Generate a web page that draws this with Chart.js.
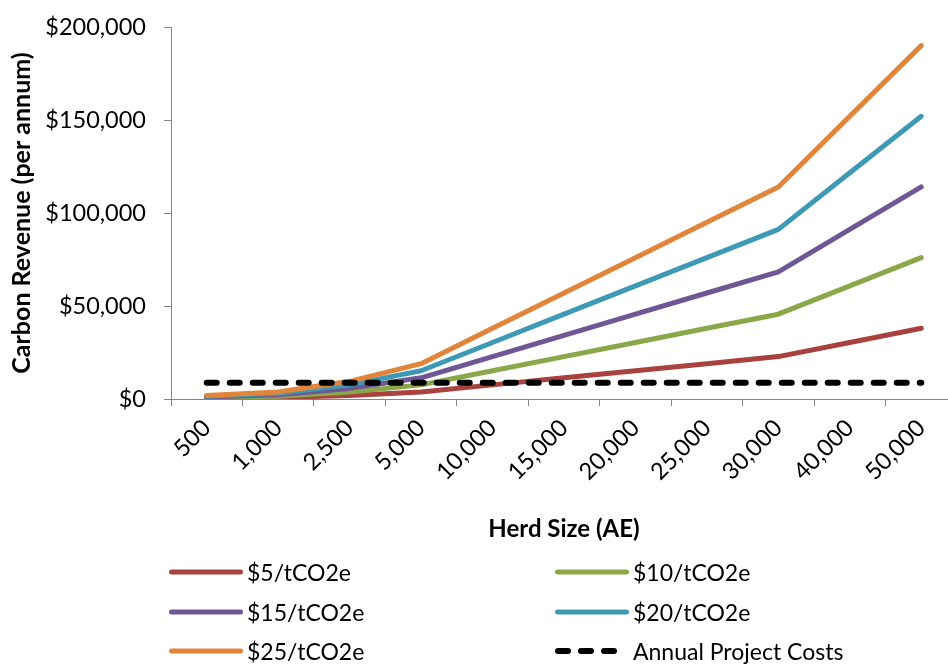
<!DOCTYPE html>
<html>
<head>
<meta charset="utf-8">
<title>Carbon Revenue by Herd Size</title>
<script src="https://cdn.jsdelivr.net/npm/chart.js@4.4.1/dist/chart.umd.min.js"></script>
<style>
  html, body { margin: 0; padding: 0; background: #fff; overflow: hidden; }
  #wrap { position: relative; width: 960px; height: 664px; }
  #chart { position: absolute; left: 0; top: 0; }
  #legend { position: absolute; left: 0; top: 0; width: 960px; height: 664px; pointer-events: none;
            font-family: Lato, "Open Sans", sans-serif; font-size: 23px; color: #000; }
  .item { position: absolute; display: flex; align-items: center; height: 30px; white-space: nowrap; }
  .item svg { display: block; margin-right: 4px; }
</style>
</head>
<body>
<div id="wrap">
  <canvas id="chart" width="960" height="664"></canvas>
  <div id="legend"></div>
</div>
<script>
// Herd size categories (animal equivalents)
const herdSizes = ['500', '1,000', '2,500', '5,000', '10,000', '15,000', '20,000', '25,000', '30,000', '40,000', '50,000'];

// Annual carbon revenue at each carbon price ($ per annum)
const revenueAt5  = [380, 760, 1900, 3800, 7600, 11400, 15200, 19000, 22800, 30400, 38000];
const revenueAt10 = [760, 1520, 3800, 7600, 15200, 22800, 30400, 38000, 45600, 60800, 76000];
const revenueAt15 = [1140, 2280, 5700, 11400, 22800, 34200, 45600, 57000, 68400, 91200, 114000];
const revenueAt20 = [1520, 3040, 7600, 15200, 30400, 45600, 60800, 76000, 91200, 121600, 152000];
const revenueAt25 = [1900, 3800, 9500, 19000, 38000, 57000, 76000, 95000, 114000, 152000, 190000];

// Fixed annual project costs
const projectCosts = [8800, 8800, 8800, 8800, 8800, 8800, 8800, 8800, 8800, 8800, 8800];

const seriesLabels = ['$5/tCO2e', '$10/tCO2e', '$15/tCO2e', '$20/tCO2e', '$25/tCO2e', 'Annual Project Costs'];
const seriesColors = ['#A9423F', '#8AA84A', '#6F5694', '#3E9AB4', '#E0853A', '#000000'];

const FONT = 'Lato, "Open Sans", sans-serif';
Chart.defaults.font.family = FONT;
Chart.defaults.color = '#000';

const revenueSeries = [revenueAt5, revenueAt10, revenueAt15, revenueAt20, revenueAt25];

const datasets = revenueSeries.map((values, i) => ({
  label: seriesLabels[i],
  data: values,
  borderColor: seriesColors[i],
  backgroundColor: seriesColors[i],
  borderWidth: 5,
  borderCapStyle: 'round',
  borderJoinStyle: 'round',
  pointRadius: 0,
  tension: 0,
  fill: false,
  order: 6 - i
}));

datasets.push({
  label: seriesLabels[5],
  data: projectCosts,
  borderColor: seriesColors[5],
  backgroundColor: seriesColors[5],
  borderWidth: 6,
  borderCapStyle: 'round',
  borderDash: [10, 13],
  pointRadius: 0,
  tension: 0,
  fill: false,
  order: 0
});

const axisGray = '#868686';

new Chart(document.getElementById('chart'), {
  type: 'line',
  data: { labels: herdSizes, datasets },
  options: {
    responsive: false,
    animation: false,
    events: [],
    layout: { padding: { top: 27, right: 3, bottom: 0, left: 0 } },
    plugins: {
      legend: { display: false },
      tooltip: { enabled: false }
    },
    scales: {
      x: {
        type: 'category',
        offset: true,
        grid: { offset: true, drawOnChartArea: false, drawTicks: true, tickLength: 7, color: axisGray, lineWidth: 1 },
        border: { display: true, color: axisGray, width: 1 },
        ticks: { minRotation: 45, maxRotation: 45, autoSkip: false, padding: 8, font: { size: 23.5 }, color: '#000' },
        title: { display: true, text: 'Herd Size (AE)', font: { size: 24, weight: 'bold' }, color: '#000',
                 padding: { top: 0, bottom: 120 } },
        afterFit(scale) { scale.height = 265; }
      },
      y: {
        min: 0,
        max: 200000,
        grid: { drawOnChartArea: false, drawTicks: true, tickLength: 7, color: axisGray, lineWidth: 1 },
        border: { display: true, color: axisGray, width: 1 },
        ticks: {
          stepSize: 50000,
          padding: 18,
          font: { size: 23.5 },
          color: '#000',
          callback: v => '$' + Number(v).toLocaleString('en-US')
        },
        title: { display: true, text: 'Carbon Revenue (per annum)', font: { size: 25, weight: 'bold' }, color: '#000',
                 padding: { top: 7, bottom: 0 } },
        afterFit(scale) {
          scale.width = 171;
          scale.paddingTop = 0;
          scale.paddingBottom = 0;
        }
      }
    }
  }
});

// Two-column legend below the plot
const legendCols = [169, 555];
const legendRows = [572, 612, 651];
const legendEl = document.getElementById('legend');
seriesLabels.forEach((label, i) => {
  const item = document.createElement('div');
  item.className = 'item';
  item.style.left = legendCols[i % 2] + 'px';
  item.style.top = (legendRows[Math.floor(i / 2)] - 15) + 'px';
  const dashed = i === 5;
  const svgNS = 'http://www.w3.org/2000/svg';
  const svg = document.createElementNS(svgNS, 'svg');
  svg.setAttribute('width', '74');
  svg.setAttribute('height', '10');
  const line = document.createElementNS(svgNS, 'line');
  line.setAttribute('y1', '5');
  line.setAttribute('y2', '5');
  line.setAttribute('stroke', seriesColors[i]);
  line.setAttribute('stroke-linecap', 'round');
  if (dashed) {
    line.setAttribute('x1', '3');
    line.setAttribute('x2', '60');
    line.setAttribute('stroke-width', '6');
    line.setAttribute('stroke-dasharray', '10 13');
  } else {
    line.setAttribute('x1', '2.5');
    line.setAttribute('x2', '71.5');
    line.setAttribute('stroke-width', '5');
  }
  svg.appendChild(line);
  item.appendChild(svg);
  const text = document.createElement('span');
  text.textContent = label;
  item.appendChild(text);
  legendEl.appendChild(item);
});
</script>
</body>
</html>
